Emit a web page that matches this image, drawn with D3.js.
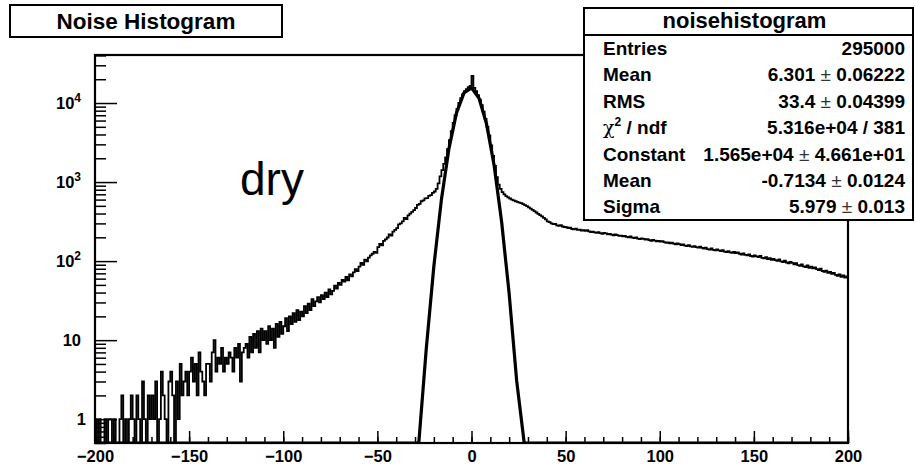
<!DOCTYPE html>
<html>
<head>
<meta charset="utf-8">
<script src="https://cdn.jsdelivr.net/npm/d3@7"></script>
<style>
  body { margin: 0; background: #fff; }
  svg { display: block; }
  text { font-family: "Liberation Sans", Arial, Helvetica, sans-serif; fill: #000; }
</style>
</head>
<body>
<script>
// histogram binning: 400 bins of width 1 from -200 to 200
var binLow = -200, binWidth = 1;

// counts for bins -200 .. -21
var leftTail = [
  1, 0, 1, 0, 0, 1, 0, 1, 1, 0,
  1, 0, 0, 1, 2, 0, 1, 0, 1, 2,
  1, 0, 2, 1, 0, 3, 1, 0, 2, 1,
  2, 1, 3, 0, 1, 4, 2, 1, 0, 3,
  4, 2, 0, 3, 1, 5, 2, 3, 4, 2,
  4, 6, 3, 5, 2, 7, 4, 3, 2, 5,
  5, 3, 7, 10, 4, 6, 5, 8, 4, 6,
  5, 7, 6, 4, 8, 6, 9, 3, 7, 8,
  9, 6, 11, 7, 12, 8, 13, 7, 14, 10,
  13, 9, 15, 10, 14, 8, 16, 11, 17, 12,
  15, 19, 13, 20, 16, 22, 17, 24, 18, 23,
  20, 27, 22, 29, 24, 33, 27, 31, 35, 30,
  37, 33, 40, 35, 44, 38, 42, 49, 45, 53,
  50, 58, 55, 63, 57, 68, 64, 72, 79, 75,
  85, 95, 90, 104, 99, 111, 118, 124, 131, 127,
  150, 165, 158, 180, 188, 199, 218, 210, 236, 248,
  262, 291, 300, 318, 352, 340, 379, 398, 420, 441,
  470, 515, 530, 572, 585, 621, 628, 668, 684, 730
];

// counts for bins -20 .. 39
var core = [
  760, 820, 960, 1180, 1420, 1700, 2050, 2600, 3400, 4400,
  5600, 6950, 8450, 10000, 11500, 12900, 14100, 15000, 15900, 16500,
  22000, 15500, 14100, 12600, 11000, 9400, 7800, 6300, 5000, 3900,
  2900, 2150, 1600, 1150, 930, 820, 745, 700, 665, 640,
  620, 600, 585, 572, 560, 548, 540, 526, 512, 495,
  478, 460, 444, 428, 412, 396, 382, 368, 352, 338
];

// counts for bins 40 .. 199
var rightTail = [
  318, 312, 300, 294, 296, 284, 280, 285, 274, 270,
  268, 262, 266, 255, 252, 257, 248, 250, 244, 246,
  241, 246, 238, 232, 236, 231, 228, 233, 226, 222,
  227, 224, 218, 221, 216, 212, 217, 213, 208, 210,
  206, 209, 203, 200, 205, 198, 196, 200, 193, 190,
  194, 191, 187, 190, 184, 181, 186, 182, 178, 180,
  176, 179, 174, 170, 173, 168, 171, 166, 163, 167,
  164, 160, 163, 157, 155, 159, 154, 151, 155, 150,
  148, 152, 147, 144, 148, 142, 140, 145, 139, 137,
  141, 137, 134, 138, 132, 130, 134, 129, 127, 131,
  126, 129, 124, 121, 125, 120, 118, 122, 116, 114,
  118, 115, 112, 116, 110, 108, 112, 106, 109, 104,
  107, 103, 101, 105, 99, 97, 101, 96, 94, 98,
  95, 91, 94, 89, 87, 91, 86, 84, 88, 82,
  85, 81, 83, 79, 77, 80, 75, 73, 76, 71,
  73, 69, 71, 67, 65, 68, 63, 66, 62, 64
];

// gaussian fit parameters (constant, mean, sigma)
var fitParams = [1.565e4, -0.7134, 5.979];

// axis ticks
var xMajorTicks = [-200, -150, -100, -50, 0, 50, 100, 150, 200];
var yMajorTicks = [1, 10, 100, 1000, 10000];
var yTickLabels = [["1", ""], ["10", ""], ["10", "2"], ["10", "3"], ["10", "4"]];

// stats box
var statsTitle = "noisehistogram";
var statLabels = ["Entries", "Mean", "RMS", "chi2", "Constant", "Mean", "Sigma"];
var statValues = [
  ["295000"],
  ["6.301", "0.06222"],
  ["33.4", "0.04399"],
  ["5.316e+04 / 381"],
  ["1.565e+04", "4.661e+01"],
  ["-0.7134", "0.0124"],
  ["5.979", "0.013"]
];

var counts = leftTail.concat(core, rightTail);

var W = 916, H = 464;
var frame = {left: 95, right: 848, top: 55, bottom: 443};
var yMin = 0.5, yMax = 4.05e4;

var svg = d3.select('body').append('svg')
  .attr('width', W)
  .attr('height', H);

var x = d3.scaleLinear().domain([-200, 200]).range([frame.left, frame.right]);
var y = d3.scaleLog().domain([yMin, yMax]).range([frame.bottom, frame.top]);

svg.append('clipPath').attr('id', 'frameClip')
  .append('rect')
  .attr('x', frame.left).attr('y', frame.top)
  .attr('width', frame.right - frame.left).attr('height', frame.bottom - frame.top);

// histogram outline as steps
var histPts = [[binLow, yMin]];
counts.forEach(function(c, i) {
  var v = Math.max(c, yMin);
  var x0 = binLow + i * binWidth;
  histPts.push([x0, v], [x0 + binWidth, v]);
});
histPts.push([binLow + counts.length * binWidth, yMin]);

var line = d3.line()
  .x(function(d) { return x(d[0]); })
  .y(function(d) { return y(d[1]); });

svg.append('path')
  .attr('clip-path', 'url(#frameClip)')
  .attr('d', line(histPts))
  .attr('fill', 'none')
  .attr('stroke', '#000')
  .attr('stroke-width', 1.8)
  .attr('stroke-linejoin', 'miter');

// fit curve, sampled like root's default 100 points
var fitPts = d3.range(0, 101).map(function(k) {
  var xv = -200 + k * 4;
  var d = (xv - fitParams[1]) / fitParams[2];
  var v = fitParams[0] * Math.exp(-0.5 * d * d);
  return [xv, Math.max(v, yMin)];
});

svg.append('path')
  .attr('clip-path', 'url(#frameClip)')
  .attr('d', line(fitPts))
  .attr('fill', 'none')
  .attr('stroke', '#000')
  .attr('stroke-width', 3.2)
  .attr('stroke-linejoin', 'round');

// y axis ticks (inside the frame)
var yMinor = [];
[0.1, 1, 10, 100, 1000, 10000].forEach(function(dec) {
  for (var m = 2; m <= 9; m++) {
    var v = m * dec;
    if (v >= yMin && v <= yMax) yMinor.push(v);
  }
});

svg.append('g')
  .attr('transform', 'translate(' + frame.left + ',0)')
  .call(d3.axisRight(y).tickValues(yMajorTicks).tickSize(22).tickFormat(''))
  .call(function(g) { g.select('.domain').remove(); })
  .selectAll('line').attr('stroke-width', 1.5);

svg.append('g')
  .attr('transform', 'translate(' + frame.left + ',0)')
  .call(d3.axisRight(y).tickValues(yMinor).tickSize(11).tickFormat(''))
  .call(function(g) { g.select('.domain').remove(); })
  .selectAll('line').attr('stroke-width', 1.5);

// y labels with superscripts
var yLab = svg.append('g').selectAll('text')
  .data(yMajorTicks)
  .enter().append('text')
  .attr('x', function(d, i) { return i === 0 ? 86 : 81; })
  .attr('y', function(d) { return y(d); })
  .attr('dy', '0.36em')
  .attr('text-anchor', 'end')
  .style('font-size', '16.5px')
  .style('font-weight', 'bold');

yLab.each(function(d, i) {
  var t = d3.select(this);
  var lab = yTickLabels[i];
  t.append('tspan').text(lab[0]);
  if (lab[1]) {
    t.append('tspan').attr('dy', -7).style('font-size', '12px').text(lab[1]);
  }
});

// x axis ticks (pointing up from the bottom)
svg.append('g')
  .attr('transform', 'translate(0,' + frame.bottom + ')')
  .call(d3.axisTop(x).tickValues(d3.range(-200, 201, 10)).tickSize(6).tickFormat(''))
  .call(function(g) { g.select('.domain').remove(); })
  .selectAll('line').attr('stroke-width', 1.5);

svg.append('g')
  .attr('transform', 'translate(0,' + frame.bottom + ')')
  .call(d3.axisTop(x).tickValues(xMajorTicks).tickSize(12).tickFormat(''))
  .call(function(g) { g.select('.domain').remove(); })
  .selectAll('line').attr('stroke-width', 1.5);

var xLabels = svg.append('g')
  .attr('transform', 'translate(0,' + frame.bottom + ')')
  .call(d3.axisBottom(x).tickValues(xMajorTicks).tickSize(0).tickPadding(7).tickFormat(d3.format('d')));
xLabels.select('.domain').remove();
xLabels.selectAll('text')
  .attr('fill', '#000')
  .style('font-family', '"Liberation Sans", Arial, sans-serif')
  .style('font-size', '16.5px')
  .style('font-weight', 'bold');

// frame
svg.append('rect')
  .attr('x', frame.left).attr('y', frame.top)
  .attr('width', frame.right - frame.left).attr('height', frame.bottom - frame.top)
  .attr('fill', 'none')
  .attr('stroke', '#000')
  .attr('stroke-width', 2.2);

// "dry" annotation
svg.append('text')
  .attr('x', 240).attr('y', 195)
  .style('font-size', '46px')
  .text('dry');

// title box
svg.append('rect')
  .attr('x', 10).attr('y', 5).attr('width', 272).attr('height', 32)
  .attr('fill', '#fff').attr('stroke', '#000').attr('stroke-width', 2);
svg.append('text')
  .attr('x', 146).attr('y', 29)
  .attr('text-anchor', 'middle')
  .style('font-size', '22.5px')
  .style('font-weight', 'bold')
  .text('Noise Histogram');

// stats box
var box = {x: 584, y: 8, w: 329, h: 212, head: 35};
svg.append('rect')
  .attr('x', box.x).attr('y', box.y).attr('width', box.w).attr('height', box.h)
  .attr('fill', '#fff').attr('stroke', '#000').attr('stroke-width', 2);
svg.append('line')
  .attr('x1', box.x).attr('x2', box.x + box.w)
  .attr('y1', box.head).attr('y2', box.head)
  .attr('stroke', '#000').attr('stroke-width', 2);
svg.append('text')
  .attr('x', box.x + box.w / 2 - 4).attr('y', 28)
  .attr('text-anchor', 'middle')
  .style('font-size', '22px')
  .style('font-weight', 'bold')
  .text(statsTitle);

statLabels.forEach(function(lab, i) {
  var yy = 55 + i * 26.4;
  var t = svg.append('text')
    .attr('x', 603).attr('y', yy)
    .style('font-size', '19px')
    .style('font-weight', 'bold');
  if (lab === 'chi2') {
    t.append('tspan').style('font-family', '"DejaVu Serif", serif').style('font-weight', 'normal').text('\u03c7');
    t.append('tspan').attr('dy', -8).style('font-size', '12px').text('2');
    t.append('tspan').attr('dy', 8).text(' / ndf');
  } else {
    t.text(lab);
  }

  var vals = statValues[i];
  var v = svg.append('text')
    .attr('x', 905).attr('y', yy)
    .attr('text-anchor', 'end')
    .style('font-size', '19px')
    .style('font-weight', 'bold');
  v.append('tspan').text(vals[0]);
  if (vals.length > 1) {
    v.append('tspan').style('font-weight', 'normal').style('fill', '#333').text(' \u00b1 ');
    v.append('tspan').text(vals[1]);
  }
});
</script>
</body>
</html>
